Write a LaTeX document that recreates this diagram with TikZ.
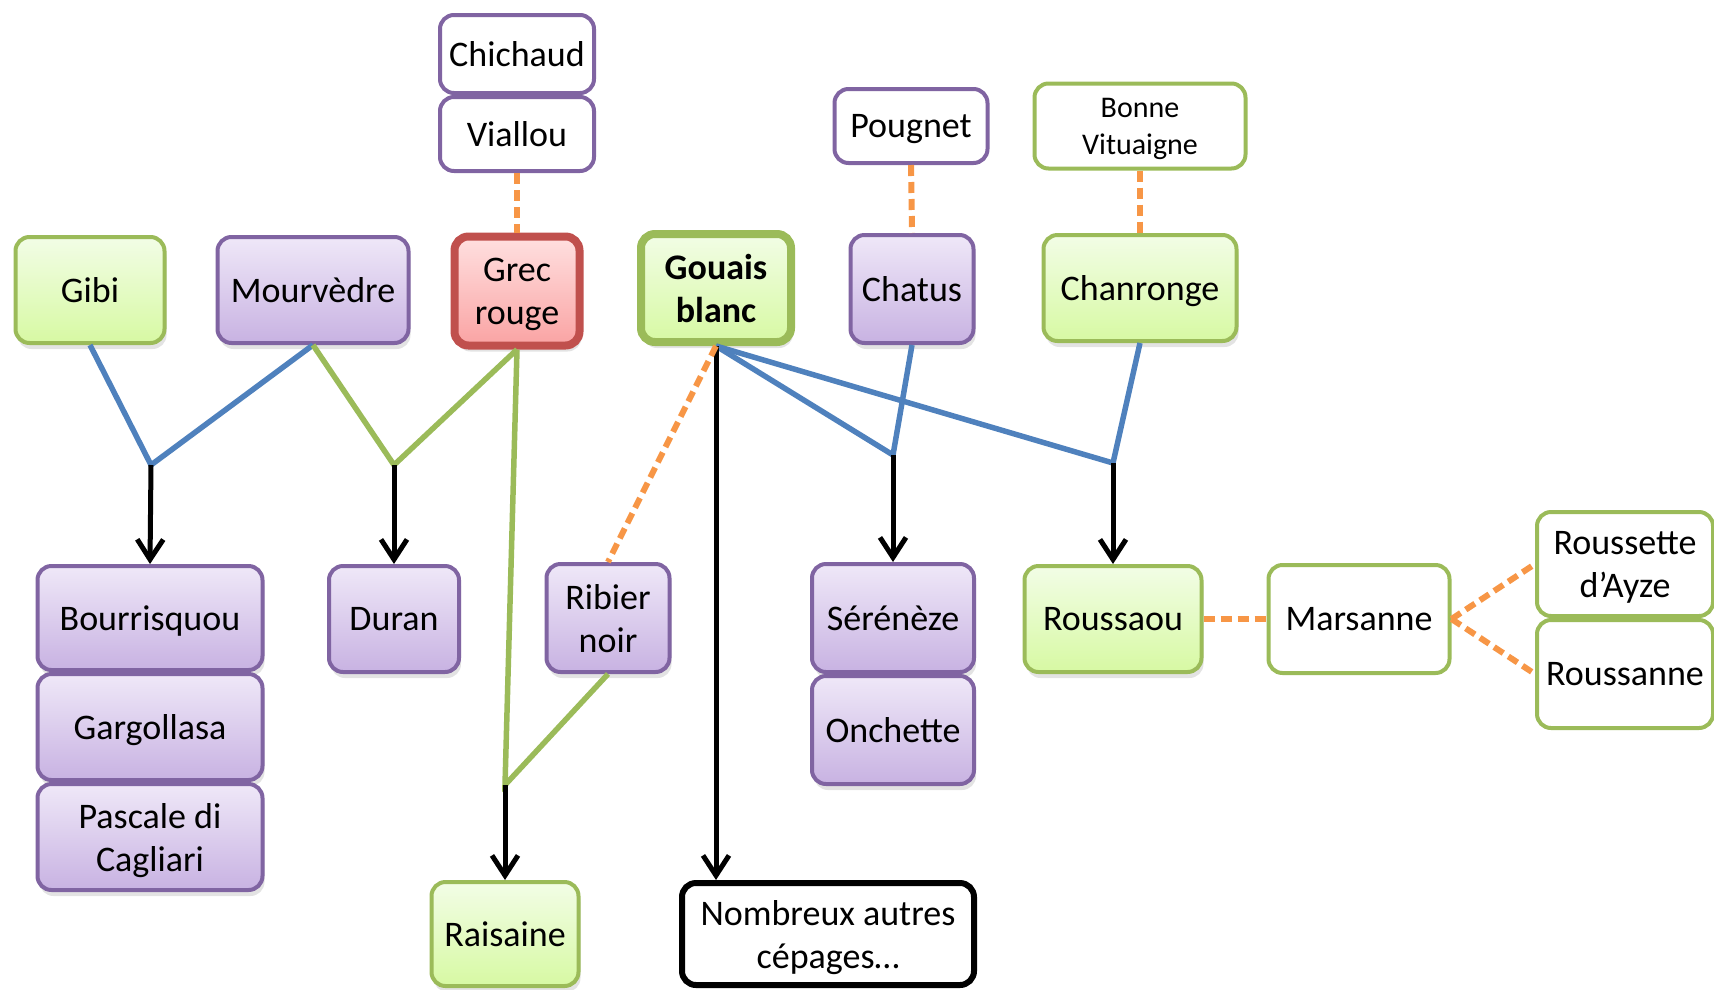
\documentclass[tikz,border=0pt]{standalone}
\usepackage{fontspec}
\setmainfont{Carlito}
\usetikzlibrary{shadows,arrows.meta}
\definecolor{vpurple}{HTML}{8064A2}
\definecolor{vgreen}{HTML}{9BBB59}
\definecolor{vred}{HTML}{C0504D}
\definecolor{vblue}{HTML}{4F81BD}
\definecolor{vorange}{HTML}{F79646}
\definecolor{mauvetop}{HTML}{EFE8F8}
\definecolor{mauvebot}{HTML}{C8B2E2}
\definecolor{verttop}{HTML}{F2FDE6}
\definecolor{vertbot}{HTML}{D7F9A3}
\definecolor{rougetop}{HTML}{FFE0E0}
\definecolor{rougebot}{HTML}{FAA3A3}

\begin{document}
\begin{tikzpicture}[x=1pt, y=-1pt,
  cep/.style={rounded corners=14pt, inner sep=0pt, align=center, text depth=0pt, line width=4pt, font=\fontsize{36}{43}\selectfont},
  ombre/.style={drop shadow={opacity=0.22, shadow xshift=2pt, shadow yshift=-6pt}},
  mauve/.style={cep, ombre, draw=vpurple, top color=mauvetop, bottom color=mauvebot},
  vert/.style={cep, ombre, draw=vgreen, top color=verttop, bottom color=vertbot},
  mauvevide/.style={cep, draw=vpurple, fill=white},
  vertvide/.style={cep, draw=vgreen, fill=white},
  lien/.style={line width=5.5pt},
  fleche/.style={line width=5pt, -{Straight Barb[length=20pt, width=26pt, line width=5pt]}},
  tiret/.style={draw=vorange, line width=6pt, dash pattern=on 11pt off 6pt}]
\useasboundingbox (0,0) rectangle (1714,989);

% top row
\node[mauvevide, minimum width=154pt, minimum height=78pt] (chichaud) at (517,54) {Chichaud};
\node[mauvevide, minimum width=154pt, minimum height=74pt] (viallou) at (517,134) {Viallou};
\node[mauvevide, minimum width=153pt, minimum height=74pt] (pougnet) at (911,126) {Pougnet};
\node[vertvide, minimum width=211pt, minimum height=85pt, font=\fontsize{30}{37}\selectfont] (bonne) at (1140,126) {Bonne\\Vituaigne};

% parents
\node[vert, minimum width=149pt, minimum height=106pt] (gibi) at (90,290) {Gibi};
\node[mauve, minimum width=191pt, minimum height=106pt] (mourv) at (313,290) {Mourvèdre};
\node[cep, ombre, draw=vred, top color=rougetop, bottom color=rougebot, line width=8pt, minimum width=125pt, minimum height=109pt] (grec) at (517,291) {Grec\\rouge};
\node[vert, line width=8pt, minimum width=150pt, minimum height=108pt, font=\fontsize{36}{43}\selectfont\bfseries] (gouais) at (716,288) {Gouais\\blanc};
\node[mauve, minimum width=123pt, minimum height=108pt] (chatus) at (912,289) {Chatus};
\node[vert, minimum width=193pt, minimum height=106pt] (chanr) at (1140,288) {Chanronge};

% children
\node[mauve, minimum width=225pt, minimum height=104pt] (bourr) at (150,618) {Bourrisquou};
\node[mauve, minimum width=225pt, minimum height=106pt] (garg) at (150,727) {Gargollasa};
\node[mauve, minimum width=225pt, minimum height=106pt] (pascale) at (150,837) {Pascale di\\Cagliari};
\node[mauve, minimum width=130pt, minimum height=106pt] (duran) at (394,619) {Duran};
\node[mauve, minimum width=123pt, minimum height=108pt] (ribier) at (608,618) {Ribier\\noir};
\node[mauve, minimum width=162pt, minimum height=108pt] (serenez) at (893,618) {Sérénèze};
\node[mauve, minimum width=162pt, minimum height=108pt] (onchette) at (893,730) {Onchette};
\node[vert, minimum width=177pt, minimum height=106pt] (roussaou) at (1113,619) {Roussaou};
\node[vertvide, minimum width=181pt, minimum height=108pt] (marsanne) at (1359,619) {Marsanne};
\node[vertvide, minimum width=176pt, minimum height=104pt] (roussette) at (1625,564) {Roussette\\d’Ayze};
\node[vertvide, minimum width=176pt, minimum height=108pt] (roussanne) at (1625,674) {Roussanne};
\node[vert, minimum width=147pt, minimum height=104pt] (raisaine) at (505,934) {Raisaine};
\node[cep, draw=black, fill=white, line width=6pt, minimum width=292pt, minimum height=102pt] (nombreux) at (828,934) {Nombreux autres\\cépages…};

% crossings
\coordinate (j1) at (151,465);
\coordinate (j2) at (394,465);
\coordinate (j3) at (893,455);
\coordinate (j4) at (1113,463);
\coordinate (j5) at (505,785);

\draw[lien, vblue] (gibi.south) -- (j1) -- (mourv.south); % Gibi x Mourvedre
\draw[lien, vgreen] (mourv.south) -- (j2) -- (grec.south); % Mourvedre x Grec rouge
\draw[lien, vgreen] (grec.south) -- (j5) -- (ribier.south); % Grec rouge x Ribier noir
\draw[lien, vblue] (gouais.south) -- (j3) -- (chatus.south); % Gouais x Chatus
\draw[lien, vblue] (gouais.south) -- (j4) -- (chanr.south); % Gouais x Chanronge

\draw[fleche] (j1) -- (bourr.north);
\draw[fleche] (j2) -- (duran.north);
\draw[fleche] (j5) -- (raisaine.north);
\draw[fleche] (j3) -- (serenez.north);
\draw[fleche] (j4) -- (roussaou.north);
\draw[fleche] (gouais.south) -- (gouais.south |- nombreux.north);

% synonyms
\draw[tiret] (viallou.south) -- (grec.north);
\draw[tiret] (pougnet.south) -- (chatus.north);
\draw[tiret] (bonne.south) -- (chanr.north);
\draw[tiret] (gouais.south) -- (ribier.north);
\draw[tiret] (roussaou.east) -- (marsanne.west);
\draw[tiret] (marsanne.east) -- (roussette.west);
\draw[tiret] (marsanne.east) -- (roussanne.west);
\end{tikzpicture}
\end{document}
